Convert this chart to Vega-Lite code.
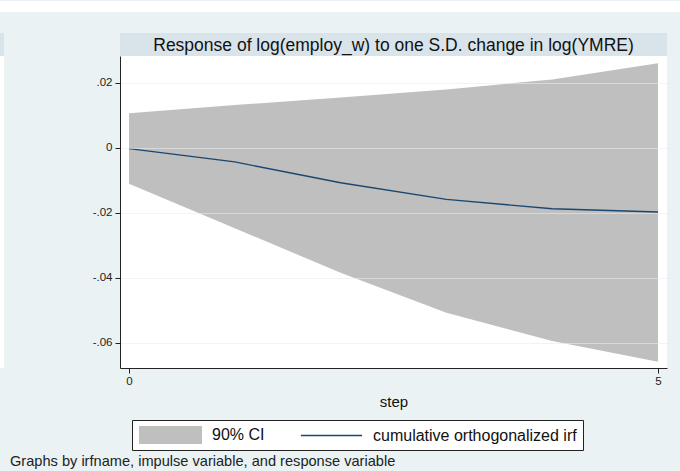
{
  "$schema": "https://vega.github.io/schema/vega-lite/v6.json",
  "background": "#EAF2F3",
  "padding": {"left": 0, "top": 0, "right": 0, "bottom": 6},
  "config": {
    "view": {"stroke": null}, "font": "Liberation Sans",
    "legend": {
      "orient": "none", "legendX": 132, "legendY": 419, "direction": "horizontal",
      "strokeColor": "#222", "fillColor": "white", "padding": 6,
      "labelFontSize": 16, "labelFont": "Liberation Sans", "labelColor": "#111", "labelLimit": 400,
      "symbolSize": 324, "symbolOffset": 23.5, "symbolStrokeWidth": 0, "symbolOpacity": 1,
      "columnPadding": 34, "labelOffset": 32.5
    }
  },
  "title": {"text": "Graphs by irfname, impulse variable, and response variable", "orient": "bottom", "anchor": "start", "fontSize": 14.6, "fontWeight": "normal", "font": "Liberation Sans", "color": "#222", "offset": 3, "dx": 10},
  "spacing": 21,
  "bounds": "flush",
  "vconcat": [
    {
      "width": 680, "height": 11,
      "view": {"fill": "white", "stroke": null},
      "data": {"values": [{"t": ""}]},
      "mark": "text",
      "encoding": {"text": {"field": "t"}}
    },
    {
      "spacing": 120,
      "bounds": "flush",
      "hconcat": [
        {
          "spacing": 0,
          "bounds": "flush",
          "vconcat": [
            {"width": 4, "height": 23, "view": {"fill": "#D8E4EA", "stroke": null},
             "data": {"values": [{"t": ""}]}, "mark": "text", "encoding": {"text": {"field": "t"}}},
            {"width": 4, "height": 312, "view": {"fill": "white", "stroke": null},
             "data": {"values": [{"t": ""}]}, "mark": "text", "encoding": {"text": {"field": "t"}}}
          ]
        },
        {
          "spacing": 0,
          "bounds": "flush",
          "vconcat": [
            {"width": 547, "height": 23, "view": {"fill": "#D8E4EA", "stroke": null},
             "data": {"values": [{"title": "Response of log(employ_w) to one S.D. change in log(YMRE)"}]},
             "mark": {"type": "text", "fontSize": 17.5, "font": "Liberation Sans", "color": "#111", "baseline": "middle", "dy": 1},
             "encoding": {"text": {"field": "title"}}},
            {
              "width": 547, "height": 312,
              "view": {"fill": "white", "stroke": null},
              "data": {"values": [
                {"step": 0, "lower": -0.0111, "upper": 0.0106, "irf": -0.0003},
                {"step": 1, "lower": -0.0248, "upper": 0.0131, "irf": -0.0044},
                {"step": 2, "lower": -0.0385, "upper": 0.0154, "irf": -0.0108},
                {"step": 3, "lower": -0.0508, "upper": 0.0179, "irf": -0.0159},
                {"step": 4, "lower": -0.0595, "upper": 0.0210, "irf": -0.0188},
                {"step": 5, "lower": -0.0659, "upper": 0.0260, "irf": -0.0198}
              ]},
              "encoding": {
                "x": {"field": "step", "type": "quantitative",
                      "scale": {"domain": [-0.085, 5.085], "nice": false, "zero": false},
                      "axis": {"values": [0, 5], "format": "d", "title": "step", "grid": false,
                               "domainColor": "#222", "tickColor": "#222", "tickSize": 5,
                               "labelFontSize": 11.5, "labelColor": "#222", "labelPadding": 2,
                               "titleFontSize": 15, "titleFontWeight": "normal", "titleColor": "#111", "titlePadding": 8, "zindex": 1}}
              },
              "layer": [
                {
                  "mark": {"type": "area", "opacity": 1},
                  "encoding": {
                    "y": {"field": "lower", "type": "quantitative",
                          "scale": {"domain": [-0.0678, 0.0282], "nice": false, "zero": false},
                          "axis": {"values": [-0.06, -0.04, -0.02, 0, 0.02], "title": null,
                                   "labelExpr": "datum.value == 0 ? '0' : (datum.value < 0 ? '-' : '') + replace(format(abs(datum.value), '.2f'), '0.', '.')",
                                   "grid": true, "gridColor": "#E4EEF0", "gridOpacity": 0.6, "gridWidth": 1,
                                   "domainColor": "#222", "tickColor": "#222", "tickSize": 5,
                                   "labelFontSize": 11.5, "labelColor": "#222", "labelPadding": 3, "zindex": 1}},
                    "y2": {"field": "upper"},
                    "color": {"datum": "90% CI", "type": "nominal",
                              "scale": {"domain": ["90% CI", "cumulative orthogonalized irf"], "range": ["#BFBFBF", "#1A476F"]},
                              "legend": {"title": null}}
                  }
                },
                {
                  "mark": {"type": "line", "strokeWidth": 1.3},
                  "encoding": {
                    "y": {"field": "irf", "type": "quantitative"},
                    "color": {"datum": "cumulative orthogonalized irf", "type": "nominal", "legend": {"title": null}}
                  }
                },
                {
                  "mark": {"type": "point", "filled": true, "opacity": 0, "strokeWidth": 0},
                  "encoding": {
                    "y": {"field": "irf", "type": "quantitative"},
                    "color": {"datum": "90% CI", "type": "nominal", "legend": {"title": null}},
                    "shape": {"datum": "90% CI", "type": "nominal",
                              "scale": {"domain": ["90% CI", "cumulative orthogonalized irf"],
                                        "range": ["M-3.5,-1H3.5V1H-3.5Z", "M-3.4,-0.08H3.4V0.08H-3.4Z"]},
                              "legend": {"title": null}}
                  }
                }
              ]
            }
          ]
        }
      ]
    }
  ]
}
